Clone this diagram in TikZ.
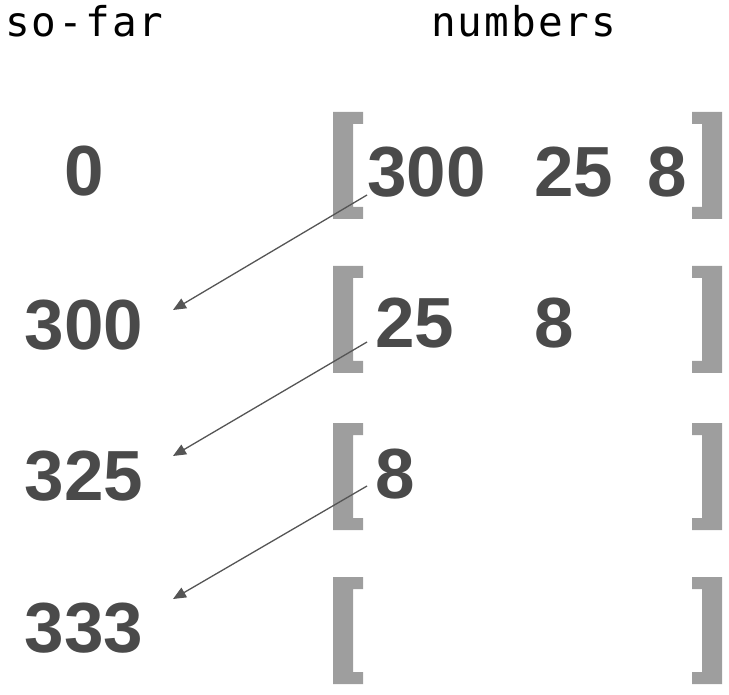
\documentclass[tikz,border=0pt]{standalone}
\usepackage{fontspec}
\setmainfont{Liberation Sans}
\setmonofont{DejaVu Sans Mono}[LetterSpace=5]
\usetikzlibrary{arrows.meta}
\definecolor{numgray}{HTML}{4A4A4A}
\definecolor{bargray}{HTML}{9E9E9E}
\definecolor{arrgray}{HTML}{555555}
\tikzset{
  num/.style={anchor=base west, inner sep=0pt, text=numgray,
    font=\fontsize{71}{71}\selectfont\bfseries},
  total/.style={num, anchor=base},
  title/.style={anchor=base west, inner sep=0pt,
    font=\fontsize{41}{41}\selectfont\ttfamily},
  bar/.style={fill=bargray, draw=none},
  carry/.style={draw=arrgray, line width=1.3pt,
    -{Triangle[length=13pt,width=11pt]}}
}
\begin{document}
\begin{tikzpicture}[x=1pt,y=-1pt]
\useasboundingbox (0,0) rectangle (729,695);

\node[title] (sofar) at (5,37) {so-far};
\node[title] (numbers) at (431,37) {numbers};

% brackets
\foreach \t in {112,266,423,577} {
  \fill[bar] (333,\t) -- (363,\t) -- (363,\t+12) -- (353,\t+12) -- (353,\t+95)
    -- (363,\t+95) -- (363,\t+107) -- (333,\t+107) -- cycle;
  \fill[bar] (722,\t) -- (692,\t) -- (692,\t+12) -- (702,\t+12) -- (702,\t+95)
    -- (692,\t+95) -- (692,\t+107) -- (722,\t+107) -- cycle;
}

\node[total] (t0) at (84,196) {0};
\node[total] (t1) at (84,349) {300};
\node[total] (t2) at (84,500) {325};
\node[total] (t3) at (84,652) {333};

\node[num] (r1a) at (367,197) {300};
\node[num] (r1b) at (534,197) {25};
\node[num] (r1c) at (647,197) {8};
\node[num] (r2a) at (375,348) {25};
\node[num] (r2b) at (534,348) {8};
\node[num] (r3a) at (375,498) {8};

\coordinate (s1) at (367,195);
\coordinate (e1) at (173,310);
\coordinate (s2) at (367,342);
\coordinate (e2) at (173,456);
\coordinate (s3) at (367,486);
\coordinate (e3) at (173,599);

\draw[carry] (s1) -- (e1);
\draw[carry] (s2) -- (e2);
\draw[carry] (s3) -- (e3);

\end{tikzpicture}
\end{document}
